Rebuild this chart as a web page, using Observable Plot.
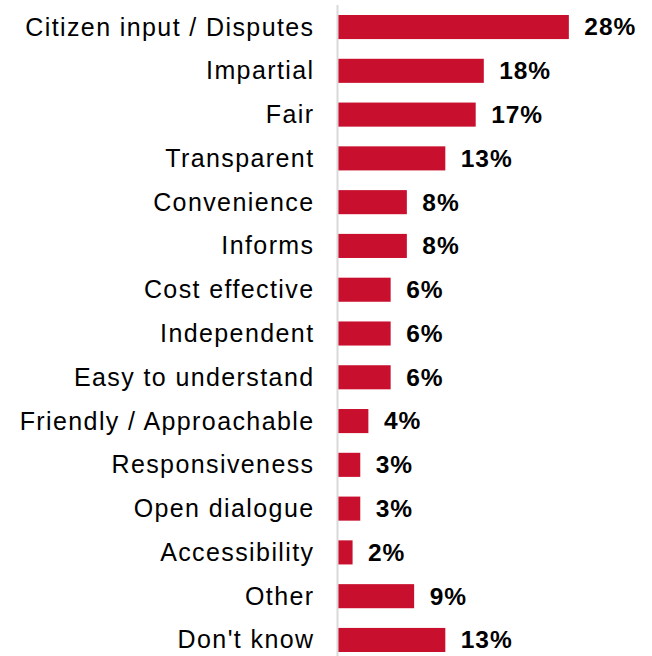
<!DOCTYPE html>
<html>
<head>
<meta charset="utf-8">
<script src="https://cdn.jsdelivr.net/npm/d3@7"></script>
<script src="https://cdn.jsdelivr.net/npm/@observablehq/plot@0.6"></script>
<style>
  html, body { margin: 0; padding: 0; background: #fff; }
  #chart svg { display: block; }
  #chart g[aria-label="y-axis tick label"] { letter-spacing: 1.4px; }
  #chart g[aria-label="text"] { letter-spacing: 0.9px; }
</style>
</head>
<body>
<div id="chart"></div>
<script>
const categories = [
  "Citizen input / Disputes", "Impartial", "Fair", "Transparent", "Convenience",
  "Informs", "Cost effective", "Independent", "Easy to understand",
  "Friendly / Approachable", "Responsiveness", "Open dialogue", "Accessibility",
  "Other", "Don't know"
];
const values = [28.5, 18.0, 17.0, 13.25, 8.5, 8.5, 6.5, 6.5, 6.5, 3.75, 2.75, 2.75, 1.8, 9.4, 13.25];
const labels = ["28%", "18%", "17%", "13%", "8%", "8%", "6%", "6%", "6%", "4%", "3%", "3%", "2%", "9%", "13%"];

const data = categories.map((c, i) => ({category: c, value: values[i], label: labels[i]}));

const chart = Plot.plot({
  width: 652,
  height: 656,
  marginLeft: 338,
  marginRight: 71,
  marginTop: 15,
  marginBottom: 4,
  style: {fontFamily: "'Liberation Sans', Arial, sans-serif", fontSize: "25px", color: "#000", background: "#fff"},
  x: {domain: [0, 30], axis: null},
  y: {domain: categories, paddingInner: 0.45, paddingOuter: 0, round: false, label: null, axis: null},
  marks: [
    Plot.barX(data, {x: "value", y: "category", fill: "#C8102E"}),
    Plot.ruleX([0], {stroke: "#d9d9d9", strokeWidth: 2, insetTop: -10, insetBottom: -4, dx: -1}),
    Plot.text(data, {x: "value", y: "category", text: "label", textAnchor: "start", dx: 15, fontWeight: "bold", fontSize: 24.5, fill: "#000"}),
    Plot.axisY({tickSize: 0, tickPadding: 24, fontSize: 25, label: null, fill: "#000", tickFormat: d => d})
  ]
});
document.getElementById("chart").appendChild(chart);
</script>
</body>
</html>
